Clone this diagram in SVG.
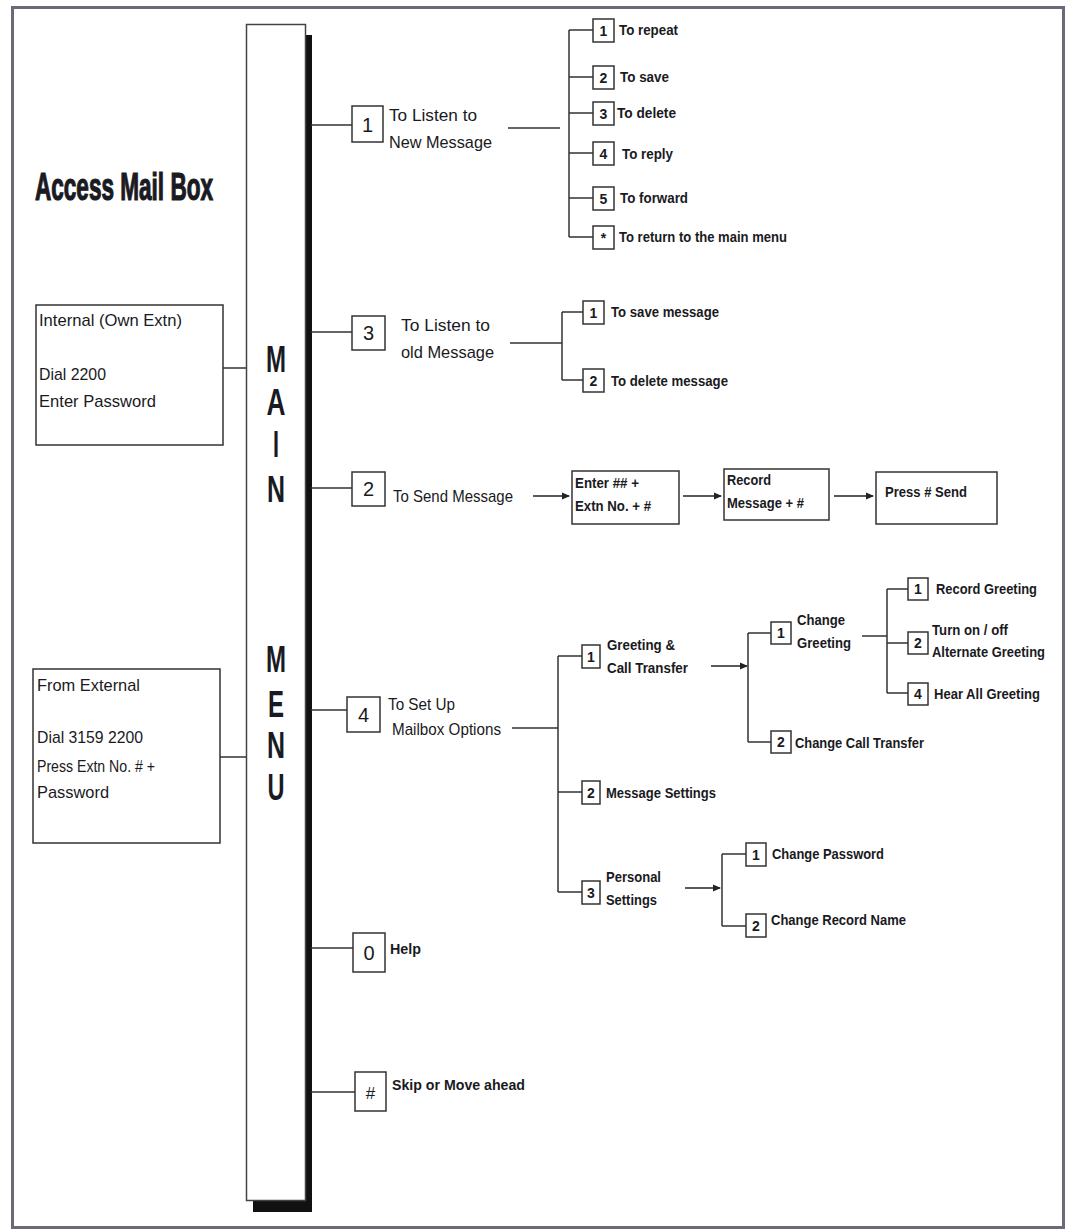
<svg xmlns="http://www.w3.org/2000/svg" width="1074" height="1232" viewBox="0 0 1074 1232">
<defs>
<style>
.t{font-family:"Liberation Sans",Arial,sans-serif;fill:#1a1a22;}
.b{font-weight:bold;}
.s{font-size:15px;font-weight:bold;}
.m{font-size:17px;}
.e{font-size:17px;}
.big{font-size:38px;font-weight:bold;stroke:#1a1a22;stroke-width:1.2;}
.num{font-size:20px;text-anchor:middle;}
.sn{font-size:14px;font-weight:bold;text-anchor:middle;}
.box{fill:#fff;stroke:#333;stroke-width:1.5;}
.ln{fill:none;stroke:#333;stroke-width:1.5;}
.ar{fill:none;stroke:#222;stroke-width:1.5;marker-end:url(#ah);}
</style>
<marker id="ah" markerWidth="8" markerHeight="8" refX="7" refY="4" orient="auto" markerUnits="userSpaceOnUse">
<path d="M0,0.5 L8,4 L0,7.5 Z" fill="#222"/>
</marker>
</defs>
<rect x="0" y="0" width="1074" height="1232" fill="#fff"/>
<rect x="12.5" y="7.5" width="1051" height="1220" fill="none" stroke="#6a6a78" stroke-width="3"/>

<g id="title"><text class="t big" x="35" y="200" textLength="178" lengthAdjust="spacingAndGlyphs">Access Mail Box</text></g>

<g id="main-menu">
<rect x="305" y="35" width="7" height="1177" fill="#111"/>
<rect x="253" y="1200" width="59" height="12" fill="#111"/>
<rect x="246.5" y="24.5" width="59" height="1176" fill="#fff" stroke="#444" stroke-width="1.5"/>
<g class="t b" font-size="36" text-anchor="middle">
<text x="276" y="372" textLength="20" lengthAdjust="spacingAndGlyphs">M</text>
<text x="276" y="415" textLength="19" lengthAdjust="spacingAndGlyphs">A</text>
<text x="276" y="457" textLength="6" lengthAdjust="spacingAndGlyphs">I</text>
<text x="276" y="502" textLength="18" lengthAdjust="spacingAndGlyphs">N</text>
<text x="276" y="672" textLength="20" lengthAdjust="spacingAndGlyphs">M</text>
<text x="276" y="717" textLength="16" lengthAdjust="spacingAndGlyphs">E</text>
<text x="276" y="758" textLength="18" lengthAdjust="spacingAndGlyphs">N</text>
<text x="276" y="800" textLength="17" lengthAdjust="spacingAndGlyphs">U</text>
</g>
</g>

<g id="connectors">
<path class="ln" d="M223,368 H246 M220,757 H246"/>
<path class="ln" d="M311,125 H352 M311,332 H352 M311,488 H352 M311,710 H347 M311,948 H353 M311,1092 H355"/>
<path class="ln" d="M508,128 H560 M569,30 V237 M569,30 H593 M569,77 H593 M569,113 H593 M569,153 H593 M569,198 H593 M569,237 H593"/>
<path class="ln" d="M510,343 H562 M562,312 V380 M562,312 H583 M562,380 H583"/>
<path class="ar" d="M533,496 H569"/>
<path class="ar" d="M683,496 H721"/>
<path class="ar" d="M834,496 H873"/>
<path class="ln" d="M512,728 H558 M558,656 V892 M558,656 H582 M558,792 H582 M558,892 H582"/>
<path class="ar" d="M711,666 H747"/>
<path class="ln" d="M748,633 V742 M748,633 H771 M748,742 H771"/>
<path class="ln" d="M862,636 H887 M887,589 V693 M887,589 H908 M887,643 H908 M887,693 H908"/>
<path class="ar" d="M685,888 H720"/>
<path class="ln" d="M722,854 V926 M722,854 H746 M722,926 H746"/>
</g>

<g id="internal">
<rect class="box" x="36" y="305" width="187" height="140"/>
<text class="t e" x="39" y="326" textLength="143" lengthAdjust="spacingAndGlyphs">Internal (Own Extn)</text>
<text class="t e" x="39" y="380" textLength="67" lengthAdjust="spacingAndGlyphs">Dial 2200</text>
<text class="t e" x="39" y="407" textLength="117" lengthAdjust="spacingAndGlyphs">Enter Password</text>
</g>

<g id="external">
<rect class="box" x="33" y="669" width="187" height="174"/>
<text class="t e" x="37" y="691" textLength="103" lengthAdjust="spacingAndGlyphs">From External</text>
<text class="t e" x="37" y="743" textLength="106" lengthAdjust="spacingAndGlyphs">Dial 3159 2200</text>
<text class="t e" x="37" y="772" textLength="118" lengthAdjust="spacingAndGlyphs">Press Extn No. # +</text>
<text class="t e" x="37" y="798" textLength="72" lengthAdjust="spacingAndGlyphs">Password</text>
</g>

<g id="opt1">
<rect class="box" x="352" y="106" width="31" height="36"/>
<text class="t num" x="367.5" y="132">1</text>
<text class="t m" x="389" y="121" textLength="88" lengthAdjust="spacingAndGlyphs">To Listen to</text>
<text class="t m" x="389" y="148" textLength="103" lengthAdjust="spacingAndGlyphs">New Message</text>
</g>
<g id="opt1-1"><rect class="box" x="593" y="19" width="21" height="23"/><text class="t sn" x="603.5" y="36">1</text><text class="t s" x="619" y="35" textLength="59" lengthAdjust="spacingAndGlyphs">To repeat</text></g>
<g id="opt1-2"><rect class="box" x="593" y="66" width="21" height="23"/><text class="t sn" x="603.5" y="83">2</text><text class="t s" x="620" y="82" textLength="49" lengthAdjust="spacingAndGlyphs">To save</text></g>
<g id="opt1-3"><rect class="box" x="593" y="102" width="21" height="23"/><text class="t sn" x="603.5" y="119">3</text><text class="t s" x="617" y="118" textLength="59" lengthAdjust="spacingAndGlyphs">To delete</text></g>
<g id="opt1-4"><rect class="box" x="593" y="142" width="21" height="23"/><text class="t sn" x="603.5" y="159">4</text><text class="t s" x="622" y="159" textLength="51" lengthAdjust="spacingAndGlyphs">To reply</text></g>
<g id="opt1-5"><rect class="box" x="593" y="187" width="21" height="23"/><text class="t sn" x="603.5" y="204">5</text><text class="t s" x="620" y="203" textLength="68" lengthAdjust="spacingAndGlyphs">To forward</text></g>
<g id="opt1-star"><rect class="box" x="593" y="226" width="21" height="23"/><text class="t sn" x="603.5" y="243">*</text><text class="t s" x="619" y="242" textLength="168" lengthAdjust="spacingAndGlyphs">To return to the main menu</text></g>

<g id="opt3">
<rect class="box" x="352" y="316" width="33" height="34"/>
<text class="t num" x="368.5" y="340">3</text>
<text class="t m" x="401" y="331" textLength="89" lengthAdjust="spacingAndGlyphs">To Listen to</text>
<text class="t m" x="401" y="358" textLength="93" lengthAdjust="spacingAndGlyphs">old Message</text>
</g>
<g id="opt3-1"><rect class="box" x="583" y="301" width="21" height="23"/><text class="t sn" x="593.5" y="318">1</text><text class="t s" x="611" y="317" textLength="108" lengthAdjust="spacingAndGlyphs">To save message</text></g>
<g id="opt3-2"><rect class="box" x="583" y="369" width="21" height="23"/><text class="t sn" x="593.5" y="386">2</text><text class="t s" x="611" y="386" textLength="117" lengthAdjust="spacingAndGlyphs">To delete message</text></g>

<g id="opt2">
<rect class="box" x="352" y="472" width="33" height="34"/>
<text class="t num" x="368.5" y="496">2</text>
<text class="t m" x="393" y="502" textLength="120" lengthAdjust="spacingAndGlyphs">To Send Message</text>
</g>
<g id="send-1"><rect class="box" x="572" y="471" width="107" height="53"/><text class="t s" x="575" y="488" textLength="64" lengthAdjust="spacingAndGlyphs">Enter ## +</text><text class="t s" x="575" y="511" textLength="76" lengthAdjust="spacingAndGlyphs">Extn No. + #</text></g>
<g id="send-2"><rect class="box" x="724" y="469" width="105" height="51"/><text class="t s" x="727" y="485" textLength="44" lengthAdjust="spacingAndGlyphs">Record</text><text class="t s" x="727" y="508" textLength="77" lengthAdjust="spacingAndGlyphs">Message + #</text></g>
<g id="send-3"><rect class="box" x="876" y="472" width="121" height="52"/><text class="t s" x="885" y="497" textLength="82" lengthAdjust="spacingAndGlyphs">Press # Send</text></g>

<g id="opt4">
<rect class="box" x="347" y="697" width="33" height="35"/>
<text class="t num" x="363.5" y="722">4</text>
<text class="t m" x="388" y="710" textLength="67" lengthAdjust="spacingAndGlyphs">To Set Up</text>
<text class="t m" x="392" y="735" textLength="109" lengthAdjust="spacingAndGlyphs">Mailbox Options</text>
</g>
<g id="opt4-1"><rect class="box" x="582" y="645" width="18" height="23"/><text class="t sn" x="591" y="662" font-size="13">1</text><text class="t s" x="607" y="650" textLength="68" lengthAdjust="spacingAndGlyphs">Greeting &amp;</text><text class="t s" x="607" y="673" textLength="81" lengthAdjust="spacingAndGlyphs">Call Transfer</text></g>
<g id="opt4-2"><rect class="box" x="582" y="781" width="18" height="23"/><text class="t sn" x="591" y="798">2</text><text class="t s" x="606" y="798" textLength="110" lengthAdjust="spacingAndGlyphs">Message Settings</text></g>
<g id="opt4-3"><rect class="box" x="582" y="881" width="18" height="23"/><text class="t sn" x="591" y="898">3</text><text class="t s" x="606" y="882" textLength="55" lengthAdjust="spacingAndGlyphs">Personal</text><text class="t s" x="606" y="905" textLength="51" lengthAdjust="spacingAndGlyphs">Settings</text></g>

<g id="greet-1"><rect class="box" x="771" y="622" width="20" height="22"/><text class="t sn" x="781" y="638">1</text><text class="t s" x="797" y="625" textLength="48" lengthAdjust="spacingAndGlyphs">Change</text><text class="t s" x="797" y="648" textLength="54" lengthAdjust="spacingAndGlyphs">Greeting</text></g>
<g id="greet-2"><rect class="box" x="771" y="731" width="20" height="22"/><text class="t sn" x="781" y="747">2</text><text class="t s" x="795" y="748" textLength="129" lengthAdjust="spacingAndGlyphs">Change Call Transfer</text></g>

<g id="cg-1"><rect class="box" x="908" y="578" width="20" height="22"/><text class="t sn" x="918" y="594">1</text><text class="t s" x="936" y="594" textLength="101" lengthAdjust="spacingAndGlyphs">Record Greeting</text></g>
<g id="cg-2"><rect class="box" x="908" y="632" width="20" height="22"/><text class="t sn" x="918" y="648">2</text><text class="t s" x="932" y="635" textLength="76" lengthAdjust="spacingAndGlyphs">Turn on / off</text><text class="t s" x="932" y="657" textLength="113" lengthAdjust="spacingAndGlyphs">Alternate Greeting</text></g>
<g id="cg-4"><rect class="box" x="908" y="683" width="20" height="22"/><text class="t sn" x="918" y="699">4</text><text class="t s" x="934" y="699" textLength="106" lengthAdjust="spacingAndGlyphs">Hear All Greeting</text></g>

<g id="ps-1"><rect class="box" x="746" y="843" width="20" height="23"/><text class="t sn" x="756" y="860">1</text><text class="t s" x="772" y="859" textLength="112" lengthAdjust="spacingAndGlyphs">Change Password</text></g>
<g id="ps-2"><rect class="box" x="746" y="914" width="20" height="23"/><text class="t sn" x="756" y="931">2</text><text class="t s" x="771" y="925" textLength="135" lengthAdjust="spacingAndGlyphs">Change Record Name</text></g>

<g id="opt0">
<rect class="box" x="353" y="933" width="32" height="39"/>
<text class="t num" x="369" y="960">0</text>
<text class="t s" x="390" y="954" textLength="31" lengthAdjust="spacingAndGlyphs">Help</text>
</g>
<g id="opthash">
<rect class="box" x="355" y="1072" width="31" height="39"/>
<text class="t" x="370.5" y="1099" font-size="17" text-anchor="middle">#</text>
<text class="t s" x="392" y="1090" textLength="133" lengthAdjust="spacingAndGlyphs">Skip or Move ahead</text>
</g>
</svg>
